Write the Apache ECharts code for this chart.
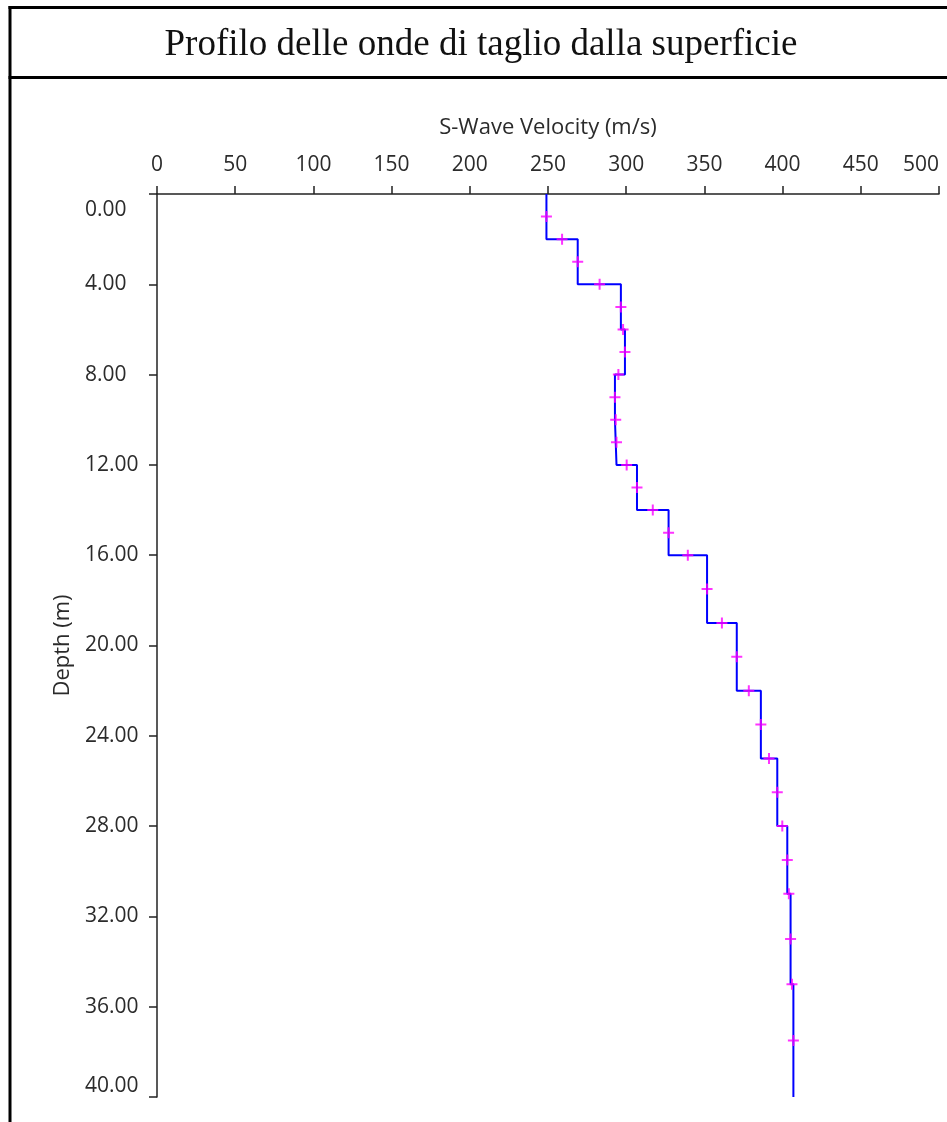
<!DOCTYPE html>
<html>
<head>
<meta charset="utf-8">
<script src="https://cdn.jsdelivr.net/npm/echarts@6/dist/echarts.min.js"></script>
<style>
    html, body {margin: 0; padding: 0; background: #fff; overflow: hidden;}
    #profilo {width: 947px; height: 1122px;}
</style>
</head>
<body>
<div id="profilo"></div>
<script>
// strati: profondita' (m) e velocita' Vs (m/s)
const layerTop = [0, 2, 4, 6, 8, 10, 12, 14, 16, 19, 22, 25, 28, 31, 35];
const layerBottom = [2, 4, 6, 8, 10, 12, 14, 16, 19, 22, 25, 28, 31, 35, 40];
const layerVs = [249, 269, 296.6, 299.2, 292.8, 293.8, 306.9, 327.1, 351.7, 370.7, 386.1, 396.6, 403, 405.1, 406.9];

// crocette magenta
const markDepth = [1, 2, 3, 4, 5, 6, 7, 8, 9, 10, 11, 12, 13, 14, 15, 16, 17.5, 19, 20.5, 22, 23.5, 25, 26.5, 28, 29.5, 31, 33, 35, 37.5];
const markVs = [249, 259, 269, 283, 296.6, 298, 299.2, 295, 292.8, 293.3, 293.8, 300.3, 306.9, 317, 327.1, 339.4, 351.7, 361.2, 370.7, 378.4, 386.1, 391.3, 396.6, 399.8, 403, 404, 405.1, 406, 406.9];

const xTicks = ['0', '50', '100', '150', '200', '250', '300', '350', '400', '450', '500'];

let profilo = [];
for (let i = 0; i < layerVs.length; i++) {
    profilo.push([layerVs[i], layerTop[i]]);
    profilo.push([layerVs[i], layerBottom[i]]);
}
let crocette = [];
for (let i = 0; i < markDepth.length; i++) {
    crocette.push([markVs[i], markDepth[i]]);
}

let dom = document.getElementById("profilo");
let myChart = echarts.init(dom, null, {renderer: 'canvas'});

const tickFont = {fontFamily: 'Open Sans', fontSize: 21, color: '#2b2b2b'};
const nameFont = {fontFamily: 'Open Sans', fontSize: 22, color: '#2b2b2b'};

const option = {
    backgroundColor: '#fff',
    animation: false,
    graphic: [
        // cornice del titolo
        {type: 'rect', shape: {x: 8.5, y: 6, width: 960, height: 3}, style: {fill: '#000'}},
        {type: 'rect', shape: {x: 8.5, y: 76, width: 960, height: 3}, style: {fill: '#000'}},
        {type: 'rect', shape: {x: 8.5, y: 6, width: 3, height: 1130}, style: {fill: '#000'}},
        {
            type: 'text',
            x: 481,
            y: 45,
            style: {
                text: 'Profilo delle onde di taglio dalla superficie',
                font: '37px "Liberation Serif"',
                fill: '#111',
                align: 'center',
                verticalAlign: 'middle'
            }
        }
    ],
    grid: {
        left: 157,
        right: 8,
        top: 194,
        bottom: 25,
        containLabel: false,
        outerBoundsMode: 'none'
    },
    xAxis: {
        type: 'value',
        position: 'top',
        min: 0,
        max: 500,
        interval: 50,
        name: 'S-Wave Velocity (m/s)',
        nameLocation: 'middle',
        nameGap: 55,
        nameTextStyle: nameFont,
        axisLine: {show: true, lineStyle: {color: '#222', width: 1.5}},
        axisTick: {show: true, length: 8, lineStyle: {color: '#222', width: 1.5}},
        axisLabel: Object.assign({
            margin: 18,
            alignMaxLabel: 'right',
            formatter: function (v) { return xTicks[v / 50]; }
        }, tickFont),
        splitLine: {show: false}
    },
    yAxis: {
        type: 'value',
        inverse: true,
        min: 0,
        max: 40,
        interval: 4,
        name: 'Depth (m)',
        nameLocation: 'middle',
        nameGap: 76,
        nameTextStyle: nameFont,
        axisLine: {show: true, lineStyle: {color: '#222', width: 1.5}},
        axisTick: {show: true, length: 8, lineStyle: {color: '#222', width: 1.5}},
        axisLabel: Object.assign({
            margin: 72,
            align: 'left',
            verticalAlignMinLabel: 'top',
            verticalAlignMaxLabel: 'bottom',
            formatter: function (v) {
                if (v === 0) return '{primo|' + v.toFixed(2) + '}';
                return v.toFixed(2);
            },
            rich: {
                primo: {fontFamily: 'Open Sans', fontSize: 21, color: '#2b2b2b', padding: [6, 0, 0, 0]}
            }
        }, tickFont),
        splitLine: {show: false}
    },
    series: [
        {
            name: 'Vs',
            type: 'line',
            data: profilo,
            symbol: 'none',
            lineStyle: {color: '#0000ff', width: 2},
            z: 2
        },
        {
            name: 'punti',
            type: 'scatter',
            data: crocette,
            symbol: 'path://M4.5,0H6.5V4.5H11V6.5H6.5V11H4.5V6.5H0V4.5H4.5Z',
            symbolSize: 11,
            itemStyle: {color: '#ff00ff'},
            z: 3
        }
    ]
};
myChart.setOption(option, true);
</script>
</body>
</html>
